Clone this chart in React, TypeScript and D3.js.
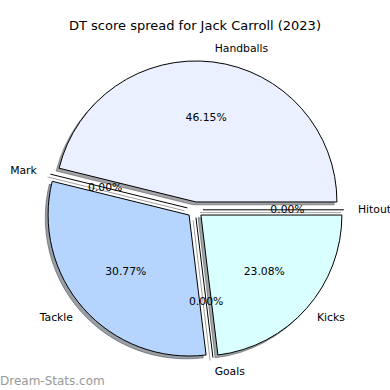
import React from "react";
import * as d3 from "d3";

// chart data
const categories = ["Handballs", "Mark", "Tackle", "Goals", "Kicks", "Hitout"];
const values = [6, 0, 4, 0, 3, 0];
const colors = ["#eaf0ff", "#cfe0ff", "#b5d5ff", "#c8e8ff", "#d9ffff", "#e8f8ff"];
const title = "DT score spread for Jack Carroll (2023)";
const watermark = "Dream-Stats.com";

const W = 390, H = 390;
const cx = 195, cy = 209.8;
const explode = 0.056;
const labelDist = 1.1;
const pctDist = 0.6;

function shade(c: string) {
  const rgb = d3.rgb(c);
  return d3.rgb(rgb.r * 0.3, rgb.g * 0.3, rgb.b * 0.3).formatHex();
}

export default function App() {
  // radius units -> pixels
  const r = d3.scaleLinear().domain([0, 1]).range([0, 141]);
  const total = d3.sum(values);
  const pie = d3.pie<number>().sort(null).startAngle(Math.PI / 2).endAngle(Math.PI / 2 - 2 * Math.PI);
  const arcs = pie(values);
  const arc = d3.arc<any>().innerRadius(0).outerRadius(r(1));
  const sh = r(0.02);

  const pieces = arcs.map((a, i) => {
    const mid = (a.startAngle + a.endAngle) / 2;
    const ox = Math.sin(mid) * r(explode);
    const oy = -Math.cos(mid) * r(explode);
    return { a, i, mid, ox, oy };
  });

  return (
    <svg width={W} height={H} style={{ position: "absolute", left: 0, top: 0 }} fontFamily="DejaVu Sans">
      <rect width={W} height={H} fill="white" />
      <text x={195} y={25} fontSize={13} textAnchor="middle" dominantBaseline="central">{title}</text>
      <g transform={`translate(${cx},${cy})`}>
        {/* shadows */}
        {pieces.map(({ a, i, mid, ox, oy }) => {
          const zero = a.startAngle === a.endAngle;
          const c = shade(colors[i]);
          return zero ? (
            <line key={"s" + i} x1={ox - sh} y1={oy + sh} x2={ox - sh + Math.sin(mid) * r(1)} y2={oy + sh - Math.cos(mid) * r(1)}
              stroke={c} strokeOpacity={0.5} strokeWidth={1} />
          ) : (
            <path key={"s" + i} d={arc(a) || ""} transform={`translate(${ox - sh},${oy + sh})`} fill={c} fillOpacity={0.5}
              stroke={c} strokeOpacity={0.5} strokeWidth={1} />
          );
        })}
        {/* wedges */}
        {pieces.map(({ a, i, mid, ox, oy }) => {
          const zero = a.startAngle === a.endAngle;
          return zero ? (
            <line key={"w" + i} x1={ox} y1={oy} x2={ox + Math.sin(mid) * r(1)} y2={oy - Math.cos(mid) * r(1)}
              stroke="black" strokeWidth={1} />
          ) : (
            <path key={"w" + i} d={arc(a) || ""} transform={`translate(${ox},${oy})`} fill={colors[i]} stroke="black" strokeWidth={1} />
          );
        })}
        {/* labels */}
        {pieces.map(({ i, mid, ox, oy }) => {
          const lx = ox + Math.sin(mid) * r(labelDist);
          const ly = oy - Math.cos(mid) * r(labelDist);
          const px = ox + Math.sin(mid) * r(pctDist);
          const py = oy - Math.cos(mid) * r(pctDist);
          return (
            <g key={"l" + i} fontSize={10.8}>
              <text x={lx} y={ly} textAnchor={lx > 0 ? "start" : "end"} dominantBaseline="central">{categories[i]}</text>
              <text x={px} y={py} textAnchor="middle" dominantBaseline="central">{(values[i] / total * 100).toFixed(2) + "%"}</text>
            </g>
          );
        })}
      </g>
      <text x={0} y={381} fontSize={12} fill="#999" dominantBaseline="central">{watermark}</text>
    </svg>
  );
}
